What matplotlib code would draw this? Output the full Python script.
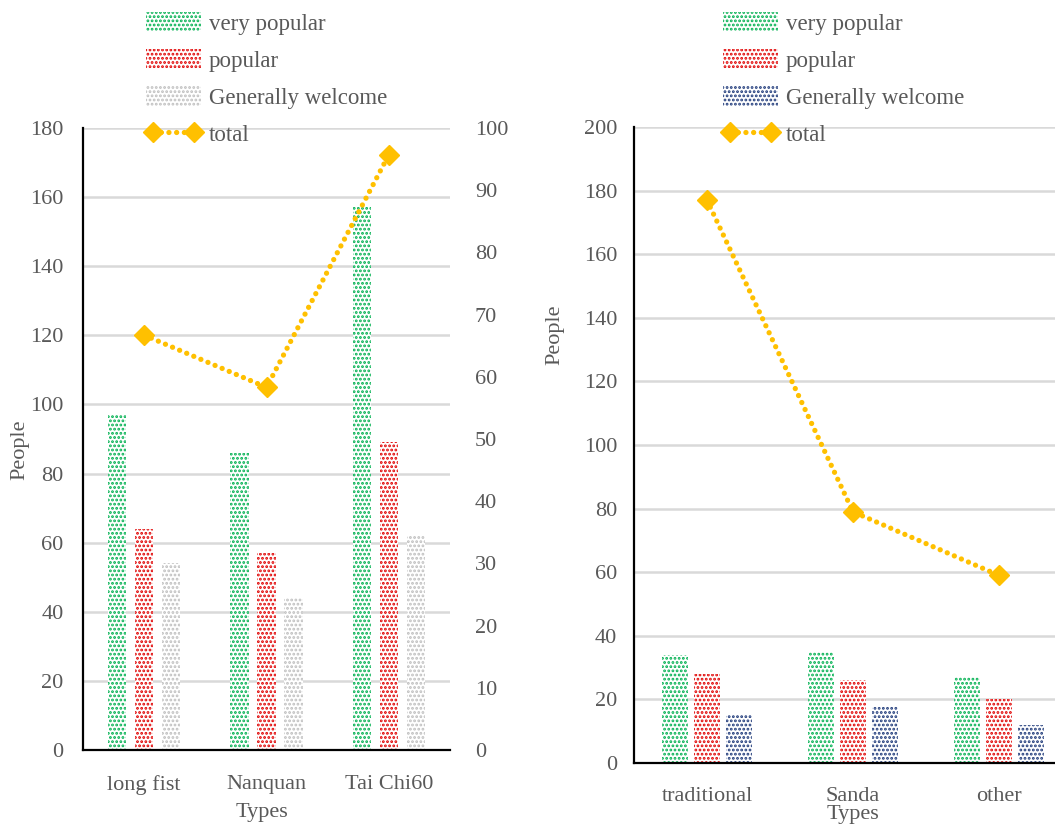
import matplotlib
matplotlib.use("Agg")
import matplotlib.pyplot as plt
import numpy as np
from matplotlib.patches import Patch
from matplotlib.lines import Line2D

# Left chart: routine types
styles_a = ["long fist", "Nanquan", "Tai Chi60"]
very_popular_a = [97, 86, 157]
popular_a = [64, 57, 89]
general_a = [54, 44, 62]
total_a = [66.7, 58.3, 95.7]

# Right chart: other categories
styles_b = ["traditional", "Sanda", "other"]
very_popular_b = [34, 35, 27]
popular_b = [28, 26, 20]
general_b = [15, 18, 12]
total_b = [177, 79, 59]

GREEN = "#00B050"
RED = "#E00000"
GRAY = "#BFBFBF"
NAVY = "#1F3A7A"
GOLD = "#FFC000"
TEXT = "#595959"
GRID = "#D9D9D9"
HATCH = "...."

plt.rcParams["font.family"] = ["Liberation Serif", "DejaVu Serif"]
plt.rcParams["hatch.linewidth"] = 1.35

W, H = 1055, 827
fig = plt.figure(figsize=(W / 100, H / 100), dpi=100)


def px_axes(l, t, r, b):
    return fig.add_axes([l / W, 1 - b / H, (r - l) / W, (b - t) / H])


def style_axes(ax):
    ax.spines["top"].set_visible(False)
    ax.spines["right"].set_visible(False)
    for s in ("left", "bottom"):
        ax.spines[s].set_color("black")
        ax.spines[s].set_linewidth(1.6)
    ax.grid(axis="y", color=GRID, linewidth=1.8)
    ax.set_axisbelow(True)
    ax.tick_params(length=0, labelsize=16, labelcolor=TEXT)


def draw_bars(ax, series, colors, width, step):
    x = np.arange(len(series[0]))
    for i, (vals, col) in enumerate(zip(series, colors)):
        ax.bar(x + (i - 1) * step, vals, width, facecolor="white",
               edgecolor=col, linewidth=0, hatch=HATCH, zorder=2)
    return x


line_kw = dict(color=GOLD, linewidth=3.8, linestyle=(0, (0.01, 1.45)),
               dash_capstyle="round", marker="D", markersize=10,
               markerfacecolor=GOLD, markeredgecolor=GOLD, zorder=4)

# ---- left chart ----
ax1 = px_axes(83, 128, 450, 750)
style_axes(ax1)
x1 = draw_bars(ax1, [very_popular_a, popular_a, general_a],
               [GREEN, RED, GRAY], 0.15, 0.22)
ax1.set_ylim(0, 180)
ax1.set_yticks(np.arange(0, 181, 20))
ax1.set_xlim(-0.5, 2.5)
ax1.set_xticks(x1)
ax1.set_xticklabels(styles_a)
ax1.tick_params(axis="y", pad=14)
ax1.tick_params(axis="x", pad=18)

ax1r = ax1.twinx()
ax1r.plot(x1, total_a, **line_kw)
ax1r.set_ylim(0, 100)
ax1r.set_yticks(np.arange(0, 101, 10))
for s in ax1r.spines.values():
    s.set_visible(False)
ax1r.tick_params(length=0, labelsize=16, labelcolor=TEXT, pad=18)

fig.text(262 / W, 1 - 813 / H, "Types", ha="center", va="center",
         fontsize=16, color=TEXT)
fig.text(20 / W, 1 - 450 / H, "People", ha="center", va="center",
         rotation=90, fontsize=16, color=TEXT)

# ---- right chart ----
ax2 = px_axes(634, 127, 1072, 763)
style_axes(ax2)
x2 = draw_bars(ax2, [very_popular_b, popular_b, general_b],
               [GREEN, RED, NAVY], 0.18, 0.22)
ax2.plot(x2, total_b, **line_kw)
ax2.set_ylim(0, 200)
ax2.set_yticks(np.arange(0, 201, 20))
ax2.set_xlim(-0.5, 2.5)
ax2.set_xticks(x2)
ax2.set_xticklabels(styles_b)
ax2.tick_params(axis="y", pad=12)
ax2.tick_params(axis="x", pad=17)

fig.text(853 / W, 1 - 815 / H, "Types", ha="center", va="center",
         fontsize=16, color=TEXT)
fig.text(555 / W, 1 - 335 / H, "People", ha="center", va="center",
         rotation=90, fontsize=16, color=TEXT)


# ---- legends ----
def make_legend(left_px, top_px, third_color):
    handles = [
        Patch(facecolor="white", edgecolor=GREEN, linewidth=0, hatch=HATCH),
        Patch(facecolor="white", edgecolor=RED, linewidth=0, hatch=HATCH),
        Patch(facecolor="white", edgecolor=third_color, linewidth=0, hatch=HATCH),
        Line2D([], [], **line_kw),
    ]
    labels = ["very popular", "popular", "Generally welcome", "total"]
    leg = fig.legend(handles, labels, loc="upper left",
                     bbox_to_anchor=(left_px / W, 1 - top_px / H),
                     frameon=False, fontsize=16.5, handlelength=2.4,
                     handleheight=0.95, handletextpad=0.35, labelspacing=0.62,
                     borderpad=0, borderaxespad=0, numpoints=2)
    for t in leg.get_texts():
        t.set_color(TEXT)
    return leg


make_legend(146, 12, GRAY)
make_legend(723, 12, NAVY)

fig.savefig("out.png", dpi=100)
